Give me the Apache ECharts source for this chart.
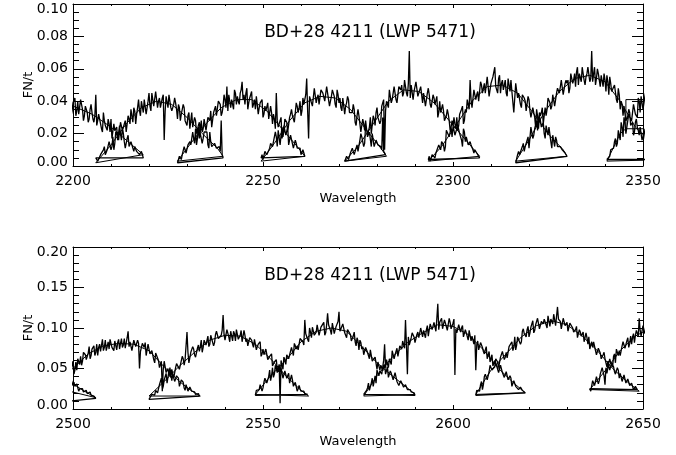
<!DOCTYPE html>
<html>
<head>
<meta charset="utf-8">
<script src="https://cdn.jsdelivr.net/npm/echarts@6/dist/echarts.min.js"></script>
<style>
  html, body { margin: 0; padding: 0; background: #fff; }
  #chart { width: 676px; height: 455px; }
</style>
</head>
<body>
<div id="chart"></div>
<script>
// IUE LWP 5471, BD+28 4211: net flux per unit time, echelle orders plotted one after another.
const STAR_TITLE = 'BD+28 4211 (LWP 5471)';
const X_NAME = 'Wavelength';
const Y_NAME = 'FN/t';
const SAMPLE_STEP = 0.5; // Angstrom between samples of one readout set
// Each order is stored as two interleaved readout sets: "A" at start + i*step,
// "B" half a step later.

// ---- upper panel, 2200-2350 A ----
const topRange = [2200, 2350];
const topYRange = [0, 0.10];
const topStarts = [2196, 2206, 2227.5, 2249.5, 2271.5, 2293.5, 2316.5, 2340.5];

const topFluxA1 = [.044,.037,.040,.045,.034,.037,.041,.031,.039,.042,.034,.032,.041,.035,.031,.038,.027,.035,.033,.027,
  .044,.028,.032,.023,.033,.025,.022,.026,.029,.017,.022,.024,.016,.020,.024,.015,.011,.019,.013,.014,
  .009,.013,.010,.007,.009,.005];
const topFluxB1 = [.036,.045,.038,.042,.032,.040,.043,.034,.038,.031,.040,.033,.040,.028,.037,.033,.029,.038,.029,.031,
  .025,.032,.032,.021,.028,.024,.029,.021,.017,.026,.022,.016,.025,.016,.020,.011,.017,.012,.015,.011,
  .012,.009,.010,.008,.008];
const topFluxA2 = [.005,.003,.002,.008,.010,.007,.010,.015,.010,.018,.014,.019,.016,.027,.022,.026,.021,.031,.026,.031,
  .036,.026,.036,.034,.040,.033,.040,.036,.045,.034,.041,.037,.045,.040,.036,.042,.016,.043,.036,.043,
  .034,.038,.039,.029,.036,.032,.038,.028,.025,.033,.028,.024,.030,.020,.025,.020,.014,.021,.022,.013,
  .021,.012,.013,.014,.010,.012,.028,.005];
const topFluxB2 = [.005,.002,.007,.007,.012,.008,.011,.015,.012,.010,.021,.021,.016,.028,.022,.028,.021,.029,.035,.027,
  .034,.032,.041,.031,.040,.041,.032,.040,.037,.045,.037,.046,.036,.042,.039,.044,.034,.042,.044,.036,
  .034,.042,.035,.038,.028,.035,.036,.028,.031,.023,.033,.024,.028,.019,.027,.020,.017,.021,.021,.011,
  .015,.013,.014,.011,.012,.009,.007];
const topFluxA3 = [.002,.006,.004,.008,.010,.008,.013,.013,.021,.014,.013,.024,.022,.021,.029,.022,.030,.028,.024,.033,
  .037,.031,.041,.031,.037,.041,.049,.044,.036,.041,.047,.038,.040,.045,.052,.044,.045,.035,.042,.046,
  .038,.035,.044,.036,.039,.030,.037,.034,.029,.037,.026,.029,.045,.024,.028,.017,.025,.019,.024,.014,
  .018,.011,.016,.011,.012,.007,.010,.006];
const topFluxB3 = [.002,.007,.007,.012,.008,.013,.015,.012,.017,.023,.017,.017,.028,.023,.028,.022,.030,.034,.025,.033,
  .031,.040,.038,.033,.044,.036,.034,.043,.041,.035,.045,.043,.038,.047,.041,.038,.048,.039,.044,.036,
  .041,.043,.032,.039,.041,.032,.034,.039,.028,.033,.032,.023,.028,.023,.030,.020,.025,.019,.013,.019,
  .019,.012,.014,.011,.011,.008,.008];
const topFluxA4 = [.005,.004,.009,.007,.007,.014,.012,.012,.018,.022,.013,.024,.022,.028,.021,.030,.035,.029,.028,.037,
  .036,.031,.042,.038,.054,.017,.043,.037,.048,.039,.044,.037,.047,.045,.041,.048,.037,.043,.045,.038,
  .047,.039,.036,.042,.032,.039,.041,.033,.033,.035,.025,.035,.026,.022,.026,.028,.018,.021,.012,.021,
  .013,.015,.012,.012,.030,.008,.006];
const topFluxB4 = [.007,.004,.008,.006,.011,.014,.012,.021,.012,.021,.019,.018,.029,.027,.021,.032,.031,.027,.039,.033,
  .040,.034,.038,.044,.034,.043,.044,.038,.048,.042,.038,.047,.045,.040,.049,.041,.038,.047,.043,.036,
  .044,.042,.034,.042,.037,.043,.033,.032,.038,.027,.031,.031,.021,.029,.022,.027,.018,.020,.020,.012,
  .016,.013,.012,.010,.009,.007];
const topFluxA5 = [.003,.006,.004,.008,.011,.007,.011,.009,.016,.018,.012,.025,.019,.024,.020,.031,.025,.036,.030,.028,
  .038,.010,.040,.036,.046,.041,.049,.041,.040,.048,.050,.045,.053,.043,.071,.050,.041,.047,.051,.044,
  .049,.039,.045,.041,.048,.038,.036,.042,.039,.030,.040,.032,.034,.027,.035,.028,.024,.029,.019,.023,
  .024,.018,.012,.021,.018,.013,.015,.012,.008,.010,.008,.005];
const topFluxB5 = [.003,.007,.004,.008,.012,.009,.013,.010,.020,.018,.014,.023,.020,.030,.020,.029,.033,.030,.026,.037,
  .041,.034,.040,.047,.039,.041,.049,.039,.049,.047,.043,.053,.045,.051,.042,.049,.046,.052,.043,.042,
  .050,.045,.037,.045,.044,.036,.044,.038,.043,.033,.033,.038,.028,.031,.032,.022,.028,.029,.018,.025,
  .020,.016,.023,.015,.017,.013,.013,.010,.010,.008,.007];
const topFluxA6 = [.004,.003,.007,.007,.008,.007,.013,.015,.013,.012,.022,.018,.024,.017,.026,.030,.025,.031,.037,.028,
  .033,.040,.053,.036,.047,.041,.046,.040,.050,.048,.045,.055,.043,.051,.055,.061,.048,.054,.045,.053,
  .050,.045,.054,.046,.046,.033,.051,.042,.045,.036,.044,.040,.035,.041,.030,.036,.030,.035,.023,.028,
  .025,.020,.025,.019,.024,.011,.018,.018,.012,.013,.012,.010,.008,.006];
const topFluxB6 = [.006,.004,.008,.005,.009,.013,.010,.014,.009,.022,.021,.019,.018,.030,.023,.022,.032,.035,.026,.035,
  .041,.035,.041,.035,.046,.044,.040,.052,.045,.051,.045,.054,.043,.052,.054,.049,.045,.056,.051,.047,
  .053,.043,.050,.053,.045,.042,.052,.045,.038,.044,.042,.034,.043,.034,.031,.037,.024,.031,.031,.024,
  .027,.017,.022,.024,.015,.019,.012,.016,.013,.012,.010,.010,.007];
const topFluxA7 = [.002,.007,.007,.007,.014,.012,.015,.011,.024,.017,.023,.028,.021,.031,.036,.031,.031,.042,.039,.037,
  .044,.038,.048,.045,.053,.044,.051,.051,.045,.057,.051,.057,.058,.050,.056,.061,.053,.055,.061,.052,
  .071,.057,.050,.060,.053,.056,.049,.053,.056,.044,.051,.046,.050,.041,.048,.035,.038,.037,.028,.031,
  .033,.026,.019,.027,.024,.019,.025,.018,.024,.012,.018,.016,.012,.013,.010,.011,.008,.008,.006,.006,
  .005,.004];
const topFluxB7 = [.003,.009,.008,.012,.009,.014,.018,.012,.025,.019,.024,.022,.033,.033,.026,.036,.035,.043,.035,.044,
  .037,.045,.049,.045,.054,.043,.053,.053,.048,.058,.053,.049,.061,.057,.052,.060,.050,.057,.061,.054,
  .052,.061,.054,.057,.049,.055,.057,.046,.052,.055,.046,.045,.051,.039,.044,.040,.031,.037,.029,.035,
  .025,.027,.021,.029,.022,.024,.016,.023,.022,.014,.017,.014,.014,.011,.011,.009,.009,.008,.006,.006,
  .005];
const topFluxA8 = [.004,.005,.010,.009,.015,.012,.022,.016,.024,.030,.020,.028,.033,.028,.038,.032,.030,.040,.043,.035,
  .043,.036,.047,.046,.043,.049];
const topFluxB8 = [.005,.006,.011,.011,.017,.014,.022,.027,.018,.027,.020,.032,.031,.029,.038,.033,.042,.033,.042,.039,
  .046,.037,.046,.051,.044];

// smooth blaze curves of the same orders, [wavelength, flux]
const topBlaze1 = [[2196,.040],[2200,.037],[2205,.032],[2210,.024],[2214,.016],[2218.5,.007]];
const topBlaze2 = [[2206,.002],[2210,.013],[2214,.026],[2218,.036],[2222,.040],[2226,.038],[2230,.030],[2234,.020],[2238,.011],[2239.5,.006]];
const topBlaze3 = [[2227.5,.003],[2231,.014],[2235,.026],[2239,.036],[2243,.041],[2247,.041],[2251,.034],[2255,.023],[2259,.012],[2261,.006]];
const topBlaze4 = [[2249.5,.003],[2253,.014],[2257,.028],[2261,.039],[2265,.043],[2269,.042],[2273,.035],[2277,.023],[2281,.011],[2282.5,.006]];
const topBlaze5 = [[2271.5,.003],[2275,.012],[2279,.026],[2283,.040],[2287,.047],[2291,.046],[2295,.039],[2299,.028],[2303,.017],[2307,.006]];
const topBlaze6 = [[2293.5,.003],[2297,.012],[2301,.026],[2305,.040],[2309,.049],[2313,.050],[2317,.045],[2321,.033],[2325,.020],[2329,.010],[2330,.006]];
const topBlaze7 = [[2316.5,.003],[2320,.016],[2324,.033],[2328,.046],[2332,.054],[2336,.056],[2340,.052],[2344,.040],[2348,.024],[2352,.015],[2357,.004]];
const topBlaze8 = [[2340.5,.003],[2344,.020],[2345.5,.023],[2353,.023],[2353,.041],[2345.5,.041],[2345.5,.023]];

// ---- lower panel, 2500-2650 A ----
const botRange = [2500, 2650];
const botYRange = [0, 0.20];
const botStarts = [2497, 2493, 2520, 2548, 2576.5, 2606, 2636];

const botFluxA1 = [.041,.035,.037,.031,.035,.036,.029,.028,.031,.022,.026,.025,.019,.023,.018,.021,.015,.016,.013];
const botFluxB1 = [.036,.040,.034,.036,.030,.033,.033,.027,.029,.025,.026,.021,.022,.019,.019,.017,.017,.014];
const botFluxA2 = [.007,.013,.013,.022,.022,.032,.025,.035,.042,.031,.042,.034,.050,.048,.059,.048,.048,.060,.065,.059,
  .072,.061,.069,.062,.074,.078,.070,.066,.080,.079,.072,.085,.077,.074,.087,.076,.084,.073,.086,.081,
  .076,.087,.074,.096,.083,.072,.085,.077,.085,.050,.071,.079,.082,.067,.074,.066,.073,.057,.067,.060,
  .053,.022,.059,.045,.050,.051,.035,.043,.037,.041,.028,.036,.033,.023,.029,.021,.026,.020,.021,.018,
  .019,.015];
const botFluxB2 = [.013,.012,.021,.018,.026,.036,.027,.027,.039,.045,.039,.053,.041,.050,.043,.058,.062,.055,.054,.070,
  .067,.062,.077,.066,.074,.066,.080,.076,.071,.086,.076,.072,.083,.086,.076,.072,.085,.082,.074,.087,
  .079,.075,.088,.077,.084,.073,.086,.077,.081,.071,.081,.076,.066,.080,.068,.072,.061,.069,.063,.051,
  .059,.049,.059,.047,.041,.050,.043,.034,.041,.038,.028,.038,.026,.030,.022,.027,.022,.023,.018,.019,
  .016];
const botFluxA3 = [.012,.012,.018,.017,.025,.022,.034,.024,.036,.044,.034,.042,.049,.038,.051,.058,.049,.049,.062,.061,
  .095,.057,.070,.077,.067,.066,.079,.077,.070,.085,.079,.090,.080,.089,.078,.092,.096,.086,.091,.116,
  .085,.098,.089,.096,.084,.093,.098,.086,.091,.083,.097,.083,.078,.088,.085,.076,.087,.077,.082,.065,
  .074,.065,.075,.062,.067,.053,.058,.061,.046,.046,.052,.037,.045,.041,.032,.042,.028,.033,.022,.029,
  .022,.022,.019,.019,.016];
const botFluxB3 = [.010,.018,.017,.023,.020,.030,.038,.028,.036,.032,.047,.039,.049,.039,.056,.054,.049,.065,.054,.060,
  .070,.059,.070,.074,.064,.075,.071,.085,.076,.086,.081,.077,.091,.090,.082,.096,.087,.085,.097,.092,
  .087,.097,.083,.094,.096,.084,.092,.087,.097,.084,.091,.087,.078,.090,.080,.086,.073,.080,.083,.068,
  .067,.074,.061,.065,.068,.052,.057,.049,.055,.051,.038,.047,.038,.044,.031,.036,.028,.033,.025,.025,
  .021,.022,.019,.018];
const botFluxA4 = [.017,.023,.024,.032,.026,.038,.032,.040,.035,.051,.043,.052,.043,.007,.058,.064,.055,.065,.063,.076,
  .066,.078,.078,.072,.089,.083,.110,.093,.083,.095,.101,.091,.095,.103,.091,.100,.107,.094,.118,.104,
  .092,.106,.098,.103,.120,.094,.105,.094,.088,.099,.092,.085,.095,.078,.084,.085,.074,.067,.076,.070,
  .062,.071,.060,.064,.049,.058,.054,.047,.055,.044,.039,.047,.043,.034,.044,.034,.029,.036,.027,.030,
  .024,.026,.021,.021,.017];
const botFluxB4 = [.023,.021,.030,.022,.033,.039,.031,.048,.041,.039,.054,.045,.055,.060,.049,.061,.067,.062,.061,.075,
  .081,.074,.073,.087,.085,.079,.093,.086,.100,.088,.096,.092,.104,.091,.101,.099,.091,.104,.104,.097,
  .106,.093,.102,.108,.096,.098,.104,.092,.098,.100,.084,.090,.083,.088,.073,.082,.077,.068,.077,.066,
  .073,.059,.058,.063,.058,.048,.056,.051,.043,.052,.041,.044,.036,.045,.034,.029,.035,.035,.026,.029,
  .023,.024,.021,.020];
const botFluxA5 = [.018,.019,.026,.023,.032,.028,.041,.048,.041,.048,.045,.080,.061,.051,.064,.072,.062,.071,.065,.078,
  .074,.085,.110,.043,.079,.088,.095,.082,.092,.088,.100,.089,.099,.098,.090,.105,.098,.107,.096,.130,
  .107,.112,.099,.106,.097,.112,.099,.106,.042,.094,.104,.095,.103,.091,.094,.085,.096,.090,.080,.048,
  .084,.072,.084,.071,.073,.062,.071,.059,.053,.060,.055,.045,.054,.045,.039,.046,.036,.041,.028,.035,
  .028,.029,.023,.025,.022,.020];
const botFluxB5 = [.016,.023,.032,.025,.038,.034,.032,.048,.047,.043,.060,.051,.061,.062,.055,.071,.067,.075,.066,.077,
  .084,.075,.079,.089,.080,.094,.089,.082,.095,.089,.100,.097,.088,.103,.098,.107,.097,.106,.112,.098,
  .106,.099,.110,.105,.096,.107,.099,.111,.099,.094,.103,.100,.089,.098,.092,.097,.084,.088,.091,.079,
  .073,.082,.076,.068,.077,.064,.058,.067,.055,.057,.056,.043,.052,.044,.038,.046,.035,.038,.028,.034,
  .030,.024,.027,.023,.022];
const botFluxA6 = [.017,.024,.022,.034,.030,.043,.036,.046,.055,.047,.052,.062,.051,.064,.071,.061,.070,.065,.077,.083,
  .076,.073,.089,.087,.083,.099,.091,.098,.089,.101,.109,.097,.102,.110,.097,.107,.111,.104,.115,.102,
  .110,.117,.103,.126,.111,.099,.112,.103,.107,.094,.106,.100,.093,.102,.088,.095,.092,.083,.094,.080,
  .074,.083,.083,.072,.067,.076,.062,.067,.062,.052,.060,.050,.058,.046,.041,.048,.044,.034,.042,.032,
  .037,.029,.032,.024,.028,.024,.022];
const botFluxB6 = [.023,.022,.030,.024,.040,.042,.037,.054,.048,.047,.062,.058,.052,.066,.071,.064,.063,.077,.077,.072,
  .089,.079,.088,.080,.096,.093,.089,.102,.094,.103,.094,.104,.112,.099,.108,.105,.113,.100,.113,.111,
  .105,.116,.102,.111,.108,.101,.114,.103,.096,.106,.106,.095,.098,.088,.098,.090,.095,.082,.088,.089,
  .076,.076,.082,.067,.075,.069,.060,.070,.057,.059,.048,.057,.052,.043,.051,.038,.043,.036,.040,.032,
  .035,.027,.031,.026,.026,.023];
const botFluxA7 = [.025,.024,.035,.031,.042,.035,.044,.051,.030,.044,.057,.057,.052,.068,.074,.066,.066,.078,.079,.074,
  .088,.081,.080,.093,.091,.097,.112,.090,.103,.093,.099,.092,.104,.098,.104];
const botFluxB7 = [.022,.035,.029,.040,.031,.043,.051,.041,.051,.046,.062,.055,.065,.057,.074,.072,.068,.083,.075,.084,
  .076,.090,.089,.082,.097,.090,.097,.090,.104,.093,.100,.093,.105,.100];

const botBlaze1 = [[2497,.038],[2500,.031],[2503,.022],[2506,.014]];
const botBlaze2 = [[2492,.030],[2496,.040],[2500,.050],[2504,.068],[2508,.078],[2512,.081],[2516,.080],[2520,.072],[2524,.052],[2528,.034],[2531,.023],[2533.5,.016]];
const botBlaze3 = [[2520,.016],[2524,.034],[2528,.053],[2532,.070],[2536,.085],[2540,.091],[2544,.090],[2548,.080],[2552,.062],[2556,.041],[2560,.023],[2562,.016]];
const botBlaze4 = [[2548,.018],[2552,.041],[2556,.060],[2560,.083],[2564,.096],[2568,.100],[2572,.096],[2576,.077],[2580,.057],[2584,.041],[2588,.026],[2590,.018]];
const botBlaze5 = [[2576.5,.016],[2580,.041],[2584,.064],[2588,.082],[2592,.094],[2596,.104],[2600,.102],[2604,.092],[2608,.073],[2612,.050],[2616,.032],[2619,.020]];
const botBlaze6 = [[2606,.018],[2610,.048],[2614,.068],[2618,.089],[2622,.103],[2626,.109],[2630,.104],[2634,.090],[2638,.072],[2642,.050],[2646,.033],[2649,.022]];
const botBlaze7 = [[2636,.024],[2640,.047],[2644,.072],[2648,.090],[2652,.100]];

// ---- building the plot ----
const FONT = '"DejaVu Sans", "Liberation Sans", sans-serif';
const INK = '#000';

// merge the two readout sets of one order into [wavelength, flux] pairs
function sampled(start, fluxA, fluxB) {
  const pts = [];
  fluxA.forEach((f, i) => {
    pts.push([start + i * SAMPLE_STEP, f]);
    if (i < fluxB.length) pts.push([start + (i + 0.5) * SAMPLE_STEP, fluxB[i]]);
  });
  return pts;
}
function joinOrders(starts, setsA, setsB) {
  let out = [];
  setsA.forEach((a, k) => { out = out.concat(sampled(starts[k], a, setsB[k])); });
  return out;
}

const topSpectrum = joinOrders(topStarts,
  [topFluxA1, topFluxA2, topFluxA3, topFluxA4, topFluxA5, topFluxA6, topFluxA7, topFluxA8],
  [topFluxB1, topFluxB2, topFluxB3, topFluxB4, topFluxB5, topFluxB6, topFluxB7, topFluxB8]);
const topBlaze = [].concat(topBlaze1, topBlaze2, topBlaze3, topBlaze4, topBlaze5, topBlaze6, topBlaze7, topBlaze8);
const botSpectrum = joinOrders(botStarts,
  [botFluxA1, botFluxA2, botFluxA3, botFluxA4, botFluxA5, botFluxA6, botFluxA7],
  [botFluxB1, botFluxB2, botFluxB3, botFluxB4, botFluxB5, botFluxB6, botFluxB7]);
const botBlaze = [].concat(botBlaze1, botBlaze2, botBlaze3, botBlaze4, botBlaze5, botBlaze6, botBlaze7);

const lineBase = { show: true, onZero: false, lineStyle: { color: INK, width: 1 } };

function xAxes(grid, range) {
  const base = {
    gridIndex: grid, type: 'value', min: range[0], max: range[1], interval: 50,
    axisLine: lineBase,
    axisTick: { show: true, inside: true, length: 4, lineStyle: { color: INK } },
    minorTick: { show: true, splitNumber: 5, length: 2, lineStyle: { color: INK } },
    splitLine: { show: false }, minorSplitLine: { show: false }
  };
  return [
    Object.assign({}, base, {
      position: 'bottom',
      axisLabel: {
        show: true, color: INK, fontFamily: FONT, fontSize: 14, margin: 8,
        showMinLabel: true, showMaxLabel: true,
        formatter: v => String(v)
      },
      name: X_NAME, nameLocation: 'middle', nameGap: 26, nameMoveOverlap: false,
      nameTextStyle: { color: INK, fontFamily: FONT, fontSize: 13 }
    }),
    Object.assign({}, base, { position: 'top', axisLabel: { show: false } })
  ];
}

function yAxes(grid, range, step, minor) {
  const base = {
    gridIndex: grid, type: 'value', min: range[0], max: range[1], interval: step,
    axisLine: lineBase,
    axisTick: { show: true, inside: true, length: 11, lineStyle: { color: INK } },
    minorTick: { show: true, splitNumber: minor, length: 6, lineStyle: { color: INK } },
    splitLine: { show: false }, minorSplitLine: { show: false }
  };
  const labelFont = { fontFamily: FONT, fontSize: 14, color: INK };
  return [
    Object.assign({}, base, {
      position: 'left',
      axisLabel: {
        show: true, color: INK, fontFamily: FONT, fontSize: 14, margin: 5,
        showMinLabel: true, showMaxLabel: true,
        formatter: v => {
          const s = v.toFixed(2);
          if (Math.abs(v - range[0]) < 1e-9) return '{lo|' + s + '}';
          if (Math.abs(v - range[1]) < 1e-9) return '{hi|' + s + '}';
          return s;
        },
        rich: {
          lo: Object.assign({ padding: [0, 0, 8, 0] }, labelFont),
          hi: Object.assign({ padding: [10, 0, 0, 0] }, labelFont)
        }
      },
      name: Y_NAME, nameLocation: 'middle', nameGap: 38, nameRotate: 90, nameMoveOverlap: false,
      nameTextStyle: { color: INK, fontFamily: FONT, fontSize: 13 }
    }),
    Object.assign({}, base, { position: 'right', axisLabel: { show: false } })
  ];
}

function traces(axisIdx, spectrum, blaze) {
  return [
    {
      type: 'line', xAxisIndex: axisIdx, yAxisIndex: axisIdx, data: spectrum,
      showSymbol: false, symbol: 'none', clip: true, silent: true,
      lineStyle: { color: INK, width: 1.3 }
    },
    {
      type: 'line', xAxisIndex: axisIdx, yAxisIndex: axisIdx, data: blaze,
      showSymbol: false, symbol: 'none', clip: true, silent: true,
      lineStyle: { color: INK, width: 1 }
    }
  ];
}

const chart = echarts.init(document.getElementById('chart'), null, { renderer: 'canvas' });
chart.setOption({
  animation: false,
  backgroundColor: '#fff',
  textStyle: { fontFamily: FONT },
  grid: [
    { left: 73, top: 4, width: 570, height: 162 },
    { left: 73, top: 247, width: 570, height: 162 }
  ],
  xAxis: [].concat(xAxes(0, topRange), xAxes(1, botRange)),
  yAxis: [].concat(yAxes(0, topYRange, 0.02, 4), yAxes(1, botYRange, 0.05, 5)),
  series: [].concat(traces(0, topSpectrum, topBlaze), traces(2, botSpectrum, botBlaze)),
  graphic: [
    { type: 'text', x: 370, y: 32.5, silent: true,
      style: { text: STAR_TITLE, font: '17px ' + FONT, fill: INK, align: 'center', verticalAlign: 'middle' } },
    { type: 'text', x: 370, y: 276, silent: true,
      style: { text: STAR_TITLE, font: '17px ' + FONT, fill: INK, align: 'center', verticalAlign: 'middle' } }
  ]
});
</script>
</body>
</html>
